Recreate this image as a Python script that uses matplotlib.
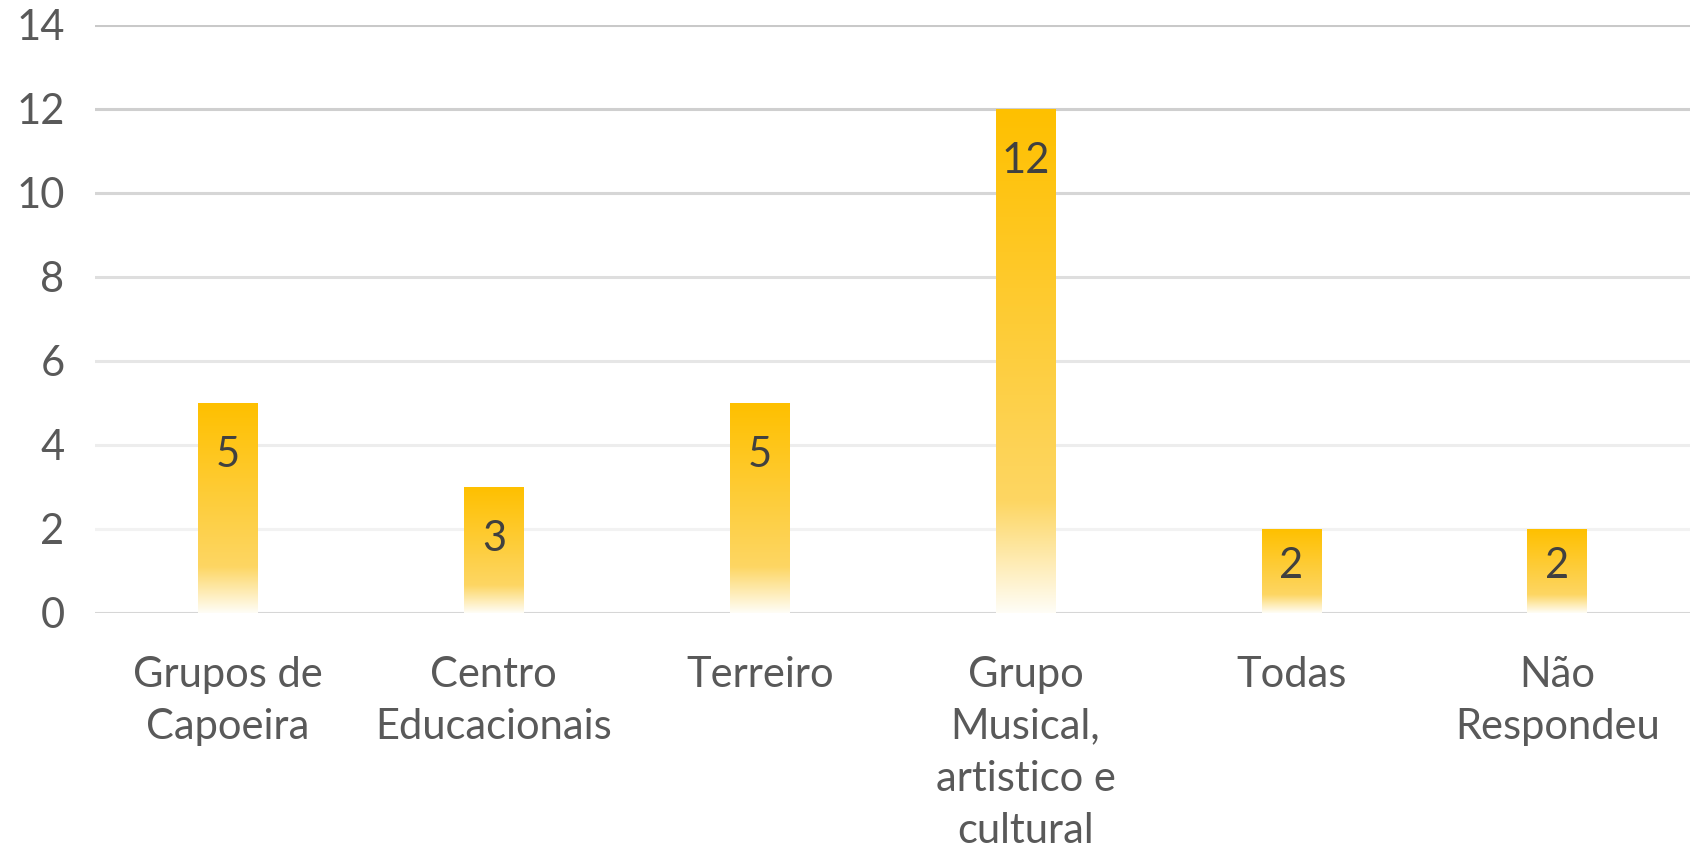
import numpy as np
import matplotlib.pyplot as plt
from matplotlib.colors import LinearSegmentedColormap

categories = ["Grupos de\nCapoeira", "Centro\nEducacionais", "Terreiro",
              "Grupo\nMusical,\nartistico e\ncultural", "Todas", "Não\nRespondeu"]
values = [5, 3, 5, 12, 2, 2]
yticks = [0, 2, 4, 6, 8, 10, 12, 14]

plt.rcParams['font.family'] = ['Lato', 'DejaVu Sans']

fig = plt.figure(figsize=(16.97, 8.48), dpi=100)
ax = fig.add_axes([0.056, 0.2776, 0.940, 0.693])

# gradient gridlines: darker at the top, fading downwards
grid_cols = {0: "#d6d6d6", 2: "#f2f2f2", 4: "#ededed", 6: "#e6e6e6",
             8: "#dedede", 10: "#d6d6d6", 12: "#cfcfcf", 14: "#c9c9c9"}
for t in yticks:
    ax.axhline(t, color=grid_cols[t], lw=2.2, zorder=0)

cmap = LinearSegmentedColormap.from_list(
    "bar", [(0.0, "#fffdf6"), (0.22, "#fdd663"), (1.0, "#ffc000")])
grad = np.linspace(0, 1, 256).reshape(-1, 1)
width = 0.225
for i, v in enumerate(values):
    ax.imshow(grad, cmap=cmap, origin="lower", aspect="auto",
              extent=(i - width / 2, i + width / 2, 0, v), zorder=2,
              interpolation="bilinear")
    ly = v - min(1.25, v * 0.45)
    ax.text(i, ly, str(v), ha="center", va="center", fontsize=30,
            color="#404040", zorder=3)

ax.set_xlim(-0.5, len(values) - 0.5)
ax.set_ylim(0, 14)
ax.set_yticks(yticks)
ax.set_xticks(range(len(categories)))
ax.set_xticklabels(categories, fontsize=30, color="#595959", linespacing=1.45)
ax.tick_params(axis="y", labelsize=30, labelcolor="#595959", length=0, pad=22)
ax.tick_params(axis="x", length=0, pad=31)
for s in ax.spines.values():
    s.set_visible(False)

fig.savefig("out.png", dpi=100)
